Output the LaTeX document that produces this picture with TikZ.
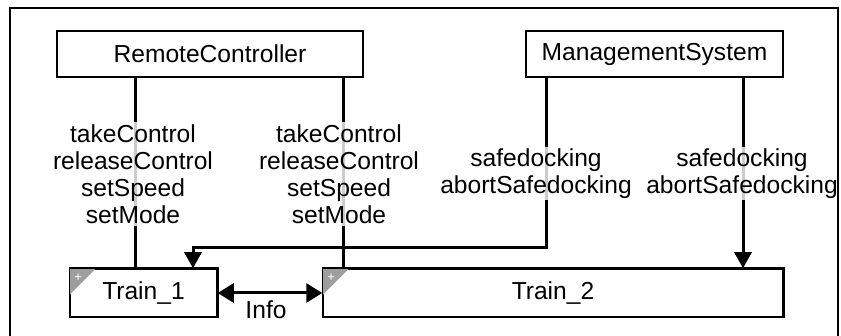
\documentclass[tikz,border=0pt]{standalone}
\usepackage{fontspec}
\setmainfont{Liberation Sans}
\usetikzlibrary{arrows.meta}
\begin{document}
\begin{tikzpicture}[x=1pt,y=-1pt,
  every node/.style={font=\fontsize{24.6}{27}\selectfont},
  box/.style={draw,line width=1.5pt,inner sep=0pt},
  conn/.style={line width=3pt},
  arr/.style={conn,-{Triangle[length=16pt,width=17pt]}},
  lbl/.style={fill=white,fill opacity=0.8,text opacity=1,align=center,inner sep=2pt},
  corner/.style={fill=black!38},
  plus/.style={text=white,font=\fontsize{13}{13}\selectfont,inner sep=0pt}]
\useasboundingbox (0,0) rectangle (841,336);
% nodes
\node[box,minimum width=306pt,minimum height=46pt] (rc) at (210,54) {RemoteController};
\node[box,minimum width=257pt,minimum height=46pt] (ms) at (654.5,54) {ManagementSystem};
\node[box,minimum width=147pt,minimum height=48pt] (t1) at (143.5,293) {\phantom{Train\_1}};
\node[box,minimum width=460pt,minimum height=48pt] (t2) at (553,293) {\phantom{Train\_2}};
% corner marks
\fill[corner] (t1.north west) -- ++(27,0) -- ++(-27,27) -- cycle;
\fill[corner] (t2.north west) -- ++(27,0) -- ++(-27,27) -- cycle;
\draw[line width=1.5pt] (t1.north west) rectangle (t1.south east);
\draw[line width=1.5pt] (t2.north west) rectangle (t2.south east);
\path (t1.north west) ++(9,10) node[plus] {+};
\path (t2.north west) ++(9,10) node[plus] {+};
\node at (t1.center) {Train\_1};
\node at (t2.center) {Train\_2};
% coordinates
\coordinate (xa) at (135,0);
\coordinate (xb) at (343,0);
\coordinate (xc) at (546,0);
\coordinate (xd) at (743,0);
\coordinate (xe) at (193,0);
\coordinate (bend) at (546,248);
% connectors
\draw[conn] (rc.south -| xa) -- (t1.north -| xa);
\draw[conn] (rc.south -| xb) -- (t2.north -| xb);
\draw[arr] (ms.south -| xc) -- (bend) -- (bend -| xe) -- (t1.north -| xe);
\draw[arr] (ms.south -| xd) -- (t2.north -| xd);
\draw[conn,{Triangle[length=16pt,width=19pt]}-{Triangle[length=16pt,width=19pt]}] (t1.east) -- (t2.west);
% labels
\node[lbl] (l1) at (133,174) {takeControl\\releaseControl\\setSpeed\\setMode};
\node[lbl] (l2) at (339,174) {takeControl\\releaseControl\\setSpeed\\setMode};
\node[lbl] (l3) at (536,173.5) {safedocking\\abortSafedocking};
\node[lbl] (l4) at (742,173.5) {safedocking\\abortSafedocking};
\node (info) at (266,310) {Info};
% frame
\draw[line width=1.5pt] (10,337) -- (10,8) -- (838,8) -- (838,337);
\end{tikzpicture}
\end{document}
